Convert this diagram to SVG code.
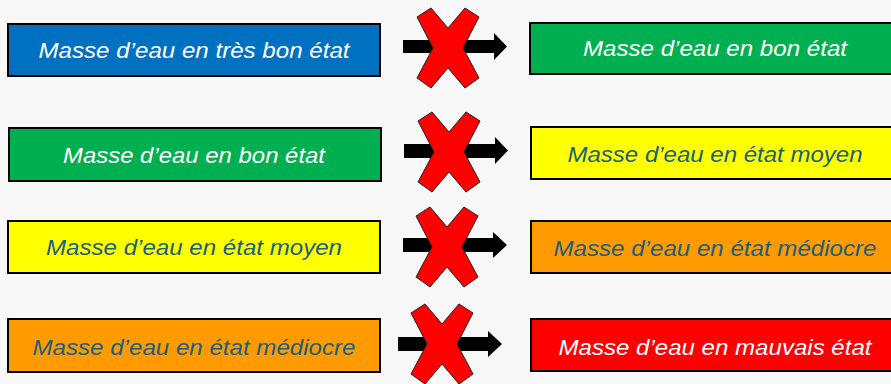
<svg xmlns="http://www.w3.org/2000/svg" xmlns:xlink="http://www.w3.org/1999/xlink" width="891" height="384" viewBox="0 0 891 384">
<style>
.box{stroke:#000;stroke-width:2}
.lbl{font-family:"Liberation Sans",Arial,sans-serif;font-style:italic;font-size:22px;text-anchor:middle}
.w{fill:#fff}
.d{fill:#1c5f7e}
.arrow{fill:#000}
.cross{fill:#ff0000;stroke:#222;stroke-width:1}
</style>
<defs>
<polygon id="xmark" points="-31,-31 -17,-40 0,-20 17,-40 31,-31 15,0 31,30 17,40 0,20 -17,40 -31,30 -15,0"/>
</defs>
<rect width="891" height="384" fill="#f8f8f8"/>

<g id="connectors">
<polygon class="arrow" points="403,40 494,40 494,33 507,46.5 494,60 494,53 403,53"/>
<polygon class="arrow" points="404,144 495,144 495,137 508,150.5 495,164 495,158 404,158"/>
<polygon class="arrow" points="403,238 493,238 493,232 507,245 493,258 493,252 403,252"/>
<polygon class="arrow" points="398,337 488,337 488,331 502,344 488,357 488,351 398,351"/>
<use xlink:href="#xmark" class="cross" transform="translate(448,48)"/>
<use xlink:href="#xmark" class="cross" transform="translate(449,152)"/>
<use xlink:href="#xmark" class="cross" transform="translate(447,247)"/>
<use xlink:href="#xmark" class="cross" transform="translate(442,344)"/>
</g>

<g id="n1">
<rect class="box" x="8" y="24" width="372" height="52" fill="#0070c0"/>
<text class="lbl w" x="194" y="58" textLength="311" lengthAdjust="spacingAndGlyphs">Masse d’eau en très bon état</text>
</g>
<g id="n2">
<rect class="box" x="530" y="23" width="372" height="51" fill="#00b050"/>
<text class="lbl w" x="715" y="56" textLength="264" lengthAdjust="spacingAndGlyphs">Masse d’eau en bon état</text>
</g>
<g id="n3">
<rect class="box" x="9" y="128" width="372" height="53" fill="#00b050"/>
<text class="lbl w" x="194" y="163" textLength="262" lengthAdjust="spacingAndGlyphs">Masse d’eau en bon état</text>
</g>
<g id="n4">
<rect class="box" x="531" y="127" width="372" height="52" fill="#ffff00"/>
<text class="lbl d" x="715" y="162" textLength="295" lengthAdjust="spacingAndGlyphs">Masse d’eau en état moyen</text>
</g>
<g id="n5">
<rect class="box" x="8" y="221" width="372" height="52" fill="#ffff00"/>
<text class="lbl d" x="194" y="255" textLength="296" lengthAdjust="spacingAndGlyphs">Masse d’eau en état moyen</text>
</g>
<g id="n6">
<rect class="box" x="531" y="221" width="372" height="52" fill="#ff9a00"/>
<text class="lbl d" x="715" y="256" textLength="323" lengthAdjust="spacingAndGlyphs">Masse d’eau en état médiocre</text>
</g>
<g id="n7">
<rect class="box" x="8" y="319" width="372" height="53" fill="#ff9a00"/>
<text class="lbl d" x="194" y="355" textLength="323" lengthAdjust="spacingAndGlyphs">Masse d’eau en état médiocre</text>
</g>
<g id="n8">
<rect class="box" x="531" y="319" width="372" height="52" fill="#ff0000"/>
<text class="lbl w" x="715" y="355" textLength="313" lengthAdjust="spacingAndGlyphs">Masse d’eau en mauvais état</text>
</g>
</svg>
